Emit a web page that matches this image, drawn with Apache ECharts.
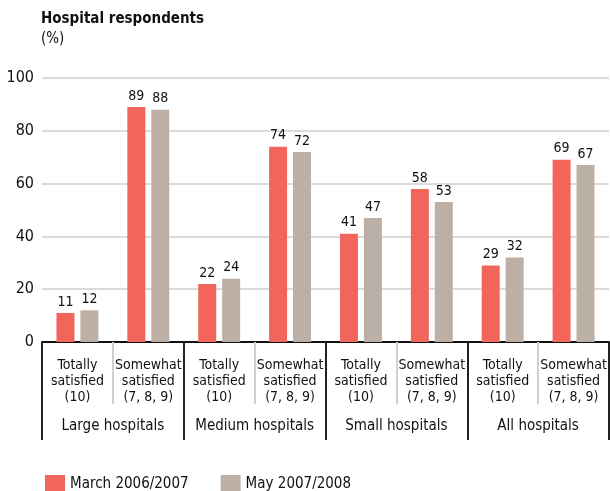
<!DOCTYPE html>
<html>
<head>
<meta charset="utf-8">
<script src="https://cdn.jsdelivr.net/npm/echarts@6/dist/echarts.min.js"></script>
<style>
  html, body { margin: 0; padding: 0; background: #fff; }
  #main { width: 610px; height: 491px; }
</style>
</head>
<body>
<div id="main"></div>
<script>
var groups = ['Large hospitals', 'Medium hospitals', 'Small hospitals', 'All hospitals'];
var subLabels = ['Totally\nsatisfied\n(10)', 'Somewhat\nsatisfied\n(7, 8, 9)'];
var seriesNames = ['March 2006/2007', 'May 2007/2008'];
var march = [11, 89, 22, 74, 41, 58, 29, 69];
var may = [12, 88, 24, 72, 47, 53, 32, 67];
var yTicks = [0, 20, 40, 60, 80, 100];

var font = "'Liberation Sans Narrow', 'DejaVu Sans Condensed', sans-serif";

var categories = [];
for (var g = 0; g < groups.length; g++) {
  for (var s = 0; s < subLabels.length; s++) {
    categories.push(subLabels[s]);
  }
}

var chart = echarts.init(document.getElementById('main'));
var option = {
  animation: false,
  textStyle: { fontFamily: font },
  title: {
    text: 'Hospital respondents',
    subtext: '(%)',
    left: 36,
    top: 7,
    itemGap: 5,
    textStyle: { fontFamily: font, fontSize: 15, fontWeight: 'bold', color: '#111' },
    subtextStyle: { fontFamily: font, fontSize: 15, color: '#111' }
  },
  legend: {
    data: seriesNames,
    left: 40,
    top: 470,
    icon: 'rect',
    itemWidth: 20,
    itemHeight: 19,
    itemGap: 32,
    textStyle: { fontFamily: font, fontSize: 15, color: '#111' }
  },
  grid: { left: 42, right: 1, top: 78, bottom: 149 },
  xAxis: [{
    type: 'category',
    data: categories,
    axisLine: { show: true, lineStyle: { color: '#111', width: 2 } },
    axisTick: { show: true, interval: 0, length: 62, lineStyle: { color: '#d0d0d0', width: 2 } },
    axisLabel: {
      interval: 0,
      margin: 15,
      fontFamily: font,
      fontSize: 14,
      lineHeight: 16,
      color: '#111'
    },
    z: 2
  }, {
    type: 'category',
    data: groups,
    position: 'bottom',
    axisLine: { show: false },
    axisTick: { show: true, interval: 0, length: 98, lineStyle: { color: '#222', width: 2 } },
    axisLabel: {
      interval: 0,
      margin: 76,
      fontFamily: font,
      fontSize: 15,
      lineHeight: 16,
      color: '#111'
    },
    z: 3
  }],
  yAxis: {
    type: 'value',
    min: 0,
    max: 100,
    interval: 20,
    axisLine: { show: false },
    axisTick: { show: false },
    splitLine: { lineStyle: { color: '#cfcfcf', width: 1.5 } },
    axisLabel: {
      margin: 8,
      fontFamily: font,
      fontSize: 16,
      color: '#111',
      formatter: function (v) { return yTicks.indexOf(v) >= 0 ? String(v) : ''; }
    }
  },
  series: [{
    name: seriesNames[0],
    type: 'bar',
    data: march,
    barWidth: 18,
    barGap: '33%',
    itemStyle: { color: '#f2655b' },
    label: { show: true, position: 'top', distance: 4, fontFamily: font, fontSize: 14, color: '#111' }
  }, {
    name: seriesNames[1],
    type: 'bar',
    data: may,
    barWidth: 18,
    itemStyle: { color: '#bcafa5' },
    label: { show: true, position: 'top', distance: 4, fontFamily: font, fontSize: 14, color: '#111' }
  }]
};
chart.setOption(option);
</script>
</body>
</html>
